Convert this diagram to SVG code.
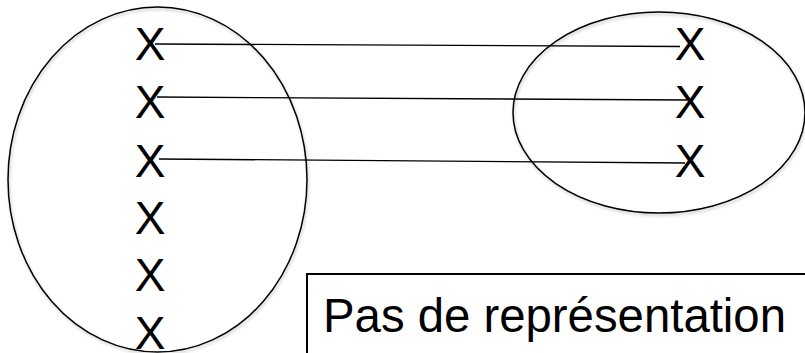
<svg xmlns="http://www.w3.org/2000/svg" width="805" height="353" viewBox="0 0 805 353">
<defs>
<style>
.set{fill:none;stroke:#000;stroke-width:1.5}
.x{font-family:"Liberation Sans",Arial,sans-serif;font-size:46px;fill:#000;text-anchor:middle}
.lk{stroke:#000;stroke-width:1.3;fill:none}
.lbl{font-family:"Liberation Sans",Arial,sans-serif;font-size:48px;fill:#000}
</style>
<filter id="sh" x="-10%" y="-10%" width="120%" height="120%">
<feGaussianBlur in="SourceAlpha" stdDeviation="1.5"/>
<feOffset dx="1" dy="1.5" result="b"/>
<feComponentTransfer><feFuncA type="linear" slope="0.25"/></feComponentTransfer>
<feMerge><feMergeNode/><feMergeNode in="SourceGraphic"/></feMerge>
</filter>
</defs>
<rect width="805" height="353" fill="#fff"/>
<g id="setA">
<ellipse class="set" cx="157.5" cy="179.5" rx="149.5" ry="172.5" filter="url(#sh)"/>
<text class="x" x="150" y="60">X</text>
<text class="x" x="150" y="118">X</text>
<text class="x" x="150" y="177">X</text>
<text class="x" x="150" y="234">X</text>
<text class="x" x="150" y="291">X</text>
<text class="x" x="150" y="349">X</text>
</g>
<g id="setB">
<ellipse class="set" cx="659" cy="112.5" rx="146" ry="100.5" filter="url(#sh)"/>
<text class="x" x="690" y="60">X</text>
<text class="x" x="690" y="118">X</text>
<text class="x" x="690" y="177">X</text>
</g>
<g id="connectors">
<line class="lk" x1="155" y1="44" x2="680" y2="46.5"/>
<line class="lk" x1="157" y1="97" x2="687" y2="100"/>
<line class="lk" x1="159" y1="159" x2="685" y2="163"/>
</g>
<g id="label">
<rect x="307" y="274" width="510" height="100" fill="#fff" stroke="#000" stroke-width="2"/>
<text class="lbl" x="323" y="332" textLength="463" lengthAdjust="spacingAndGlyphs">Pas de représentation</text>
</g>
</svg>
